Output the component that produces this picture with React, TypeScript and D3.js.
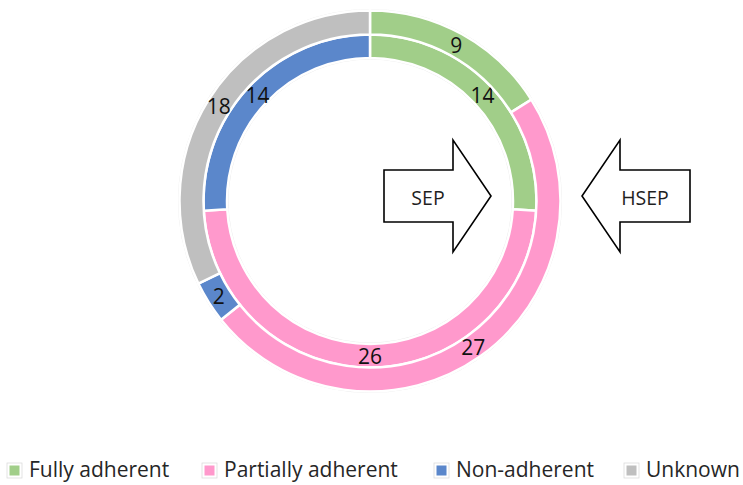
import React from "react";
import * as d3 from "d3";

// Adherence categories shared by both rings
const categories = ["Fully adherent", "Partially adherent", "Non-adherent", "Unknown"];
const colors = ["#a1ce89", "#ff99cc", "#5b87cb", "#bfbfbf"];

// Inner ring: SEP, outer ring: HSEP
const sepValues = [14, 26, 14, 0];
const hsepValues = [9, 27, 2, 18];
const ringNames = ["SEP", "HSEP"];

const W = 743;
const H = 485;
const cx = 370;
const cy = 201;
const FONT = "'Open Sans', 'Liberation Sans', sans-serif";

type Ring = { name: string; values: number[]; inner: number; outer: number };

const rings: Ring[] = [
  { name: ringNames[0], values: sepValues, inner: 143, outer: 166.5 },
  { name: ringNames[1], values: hsepValues, inner: 166.5, outer: 190.5 },
];

const pie = d3
  .pie<number>()
  .sort(null)
  .value((d) => d)
  .startAngle(0)
  .endAngle(2 * Math.PI);

// Block arrow pointing from tail to tip along x, centred at y
function blockArrow(tail: number, base: number, tip: number, y: number, shaftHalf: number, headHalf: number) {
  const p = d3.path();
  p.moveTo(tail, y - shaftHalf);
  p.lineTo(base, y - shaftHalf);
  p.lineTo(base, y - headHalf);
  p.lineTo(tip, y);
  p.lineTo(base, y + headHalf);
  p.lineTo(base, y + shaftHalf);
  p.lineTo(tail, y + shaftHalf);
  p.closePath();
  return p.toString();
}

// Legend item start positions
const legendX = [8, 203, 435, 625];

export default function App() {
  const arrowY = -5;
  return (
    <svg
      width={W}
      height={H}
      viewBox={`0 0 ${W} ${H}`}
      style={{ position: "absolute", left: 0, top: 0, display: "block", background: "#fff" }}
    >
      <rect x={0} y={0} width={W} height={H} fill="#fff" />
      <g transform={`translate(${cx},${cy})`}>
        {/* faint rim around the rings */}
        <circle r={191.5} fill="none" stroke="#e2e2e2" strokeWidth={0.8} />
        <circle r={142} fill="none" stroke="#e2e2e2" strokeWidth={0.8} />
        {rings.map((ring) => {
          const arc = d3.arc<d3.PieArcDatum<number>>().innerRadius(ring.inner).outerRadius(ring.outer);
          const labelArc = d3
            .arc<d3.PieArcDatum<number>>()
            .innerRadius((ring.inner + ring.outer) / 2)
            .outerRadius((ring.inner + ring.outer) / 2);
          const slices = pie(ring.values);
          return (
            <g key={ring.name}>
              {slices.map((s, i) =>
                s.value > 0 ? (
                  <path key={i} d={arc(s) || ""} fill={colors[i]} stroke="#fff" strokeWidth={2.5} strokeLinejoin="miter" />
                ) : null
              )}
              {slices.map((s, i) => {
                if (s.value <= 0) return null;
                const [lx, ly] = labelArc.centroid(s);
                return (
                  <text
                    key={`l${i}`}
                    x={lx}
                    y={ly}
                    textAnchor="middle"
                    dominantBaseline="central"
                    fontFamily={FONT}
                    fontSize={21}
                    fill="#111"
                  >
                    {s.value}
                  </text>
                );
              })}
            </g>
          );
        })}

        {/* SEP arrow pointing at the inner ring */}
        <path d={blockArrow(14, 83, 121, arrowY, 26, 56)} fill="#fff" stroke="#000" strokeWidth={1.6} strokeLinejoin="miter" />
        <text x={58} y={arrowY + 1} textAnchor="middle" dominantBaseline="central" fontFamily={FONT} fontSize={19.5} fill="#1f1f1f">
          {ringNames[0]}
        </text>

        {/* HSEP arrow pointing at the outer ring */}
        <path d={blockArrow(320, 250, 212, arrowY, 26, 56)} fill="#fff" stroke="#000" strokeWidth={1.6} strokeLinejoin="miter" />
        <text x={275} y={arrowY + 1} textAnchor="middle" dominantBaseline="central" fontFamily={FONT} fontSize={19.5} fill="#1f1f1f">
          {ringNames[1]}
        </text>
      </g>

      {/* Legend */}
      <g>
        {categories.map((c, i) => (
          <g key={c} transform={`translate(${legendX[i]},464)`}>
            <rect x={-1} y={-1} width={15} height={15} fill="#fff" stroke="#dcdcdc" strokeWidth={0.8} />
            <rect x={0.75} y={0.75} width={11.5} height={11.5} fill={colors[i]} stroke="#fff" strokeWidth={1.5} />
            <text x={21} y={13} fontFamily={FONT} fontSize={21} fill="#262626">
              {c}
            </text>
          </g>
        ))}
      </g>
    </svg>
  );
}
